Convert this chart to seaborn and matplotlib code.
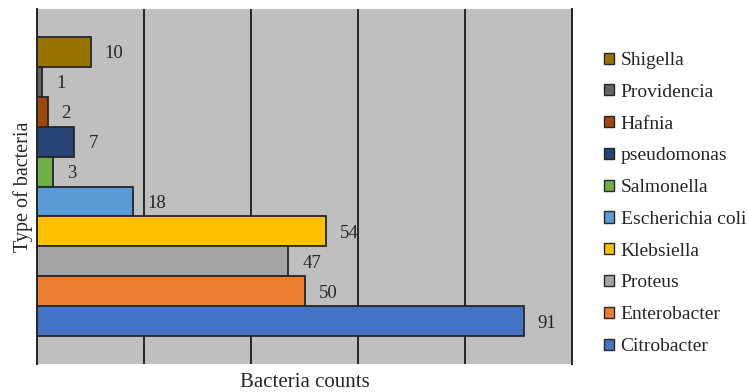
import matplotlib.pyplot as plt
import numpy as np
import pandas as pd
import seaborn as sns
from matplotlib.patches import Patch

# data, top bar first
bacteria = ['Shigella', 'Providencia', 'Hafnia', 'pseudomonas', 'Salmonella',
            'Escherichia coli', 'Klebsiella', 'Proteus', 'Enterobacter', 'Citrobacter']
counts = [10, 1, 2, 7, 3, 18, 54, 47, 50, 91]
colors = ['#997300', '#636363', '#9E480E', '#264478', '#70AD47',
          '#5B9BD5', '#FFC000', '#A5A5A5', '#ED7D31', '#4472C4']

df = pd.DataFrame({'bacteria': bacteria, 'count': counts})

sns.set_style('white')
plt.rcParams['font.family'] = ['Liberation Serif', 'DejaVu Serif']

fig = plt.figure(figsize=(7.47, 3.92), dpi=100)
ax = fig.add_axes([37 / 747, 1 - 364 / 392, (572 - 37) / 747, (364 - 9) / 392])
ax.set_facecolor('#BFBFBF')

sns.barplot(data=df, x='count', y='bacteria', hue='bacteria', order=bacteria,
            hue_order=bacteria, palette=colors, saturation=1, orient='h', width=1.0,
            edgecolor='#262626', linewidth=1.3, legend=False, ax=ax)

for c in ax.containers:
    labels = ax.bar_label(c, padding=10, fontsize=13.5, color='#262626')
    for t in labels:
        t.set_va('center_baseline')

ax.set_xlim(0, 100)
ax.set_xticks([0, 20, 40, 60, 80, 100])
ax.set_xticklabels([])
ax.set_yticks([])
ax.set_ylim(10.42, -1.42)
ax.tick_params(length=0)
ax.grid(axis='x', color='#262626', linewidth=1.4)
ax.grid(axis='y', visible=False)
for s in ['top', 'bottom']:
    ax.spines[s].set_visible(False)
for s in ['left', 'right']:
    ax.spines[s].set_visible(True)
    ax.spines[s].set_color('#262626')
    ax.spines[s].set_linewidth(1.4)

ax.set_xlabel('Bacteria counts', fontsize=15, labelpad=3, color='#262626')
ax.set_ylabel('Type of bacteria', fontsize=14.5, labelpad=3, color='#262626')

handles = [Patch(facecolor=col, edgecolor='#262626', linewidth=1.0) for col in colors]
fig.legend(handles, bacteria, loc='upper left', bbox_to_anchor=(604 / 747, 1 - 52 / 392),
           frameon=False, fontsize=14, handlelength=0.5, handleheight=0.5,
           handletextpad=0.35, labelspacing=0.76, borderaxespad=0, borderpad=0,
           labelcolor='#262626')

plt.savefig('out.png', dpi=100)
